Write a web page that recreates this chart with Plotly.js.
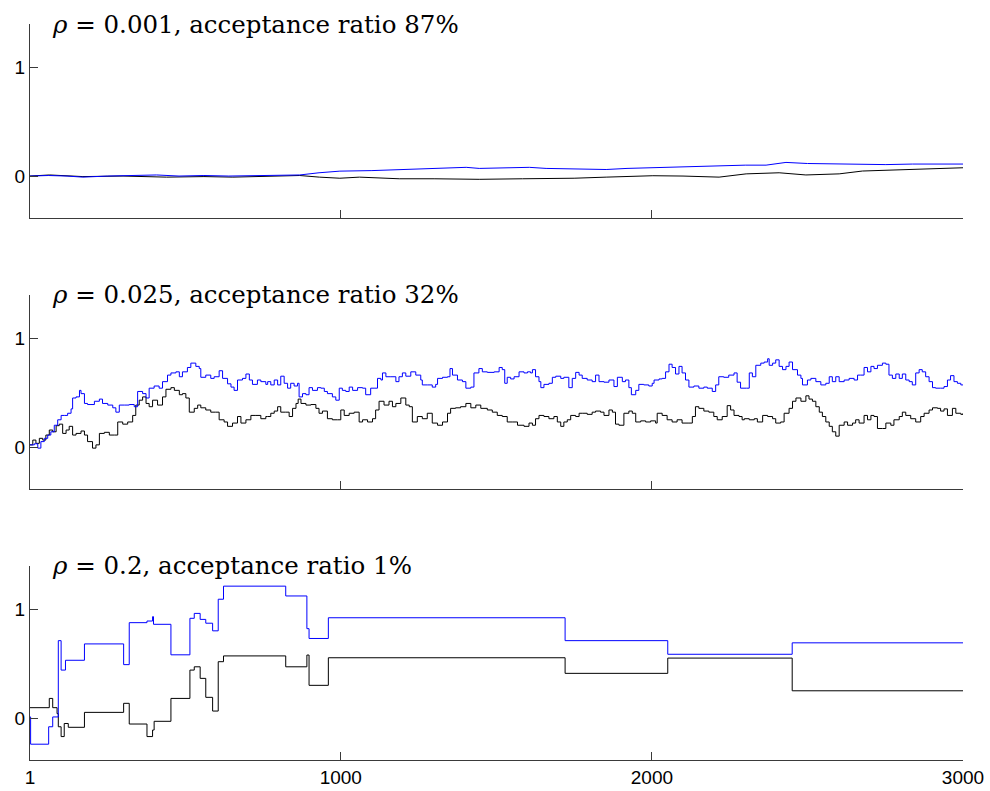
<!DOCTYPE html>
<html>
<head>
<meta charset="utf-8">
<script src="https://cdn.plot.ly/plotly-3.0.1.min.js"></script>
<style>html,body{margin:0;padding:0;background:#fff;}#chart{width:990px;height:791px;}</style>
</head>
<body>
<div id="chart"></div>
<script>
// ---- data (iteration, value) ----
const titles = [
  "<i>ρ</i> = 0.001, acceptance ratio 87%",
  "<i>ρ</i> = 0.025, acceptance ratio 32%",
  "<i>ρ</i> = 0.2, acceptance ratio 1%"
];
const xTickVals = [1, 1000, 2000, 3000];
const xTickText = ["1", "1000", "2000", "3000"];
const yTickVals = [0, 1];

const p1Blue = [[1,0],[60,0.005],[120,0],[171,-0.01],[250,0],[330,0.005],[408,0.01],[480,0],[560,0.005],[640,0],[720,0.005],[800,0.01],[868,0.01],[930,0.03],[997,0.045],[1100,0.05],[1230,0.06],[1330,0.07],[1403,0.08],[1445,0.07],[1530,0.075],[1606,0.08],[1660,0.07],[1750,0.065],[1853,0.06],[1920,0.07],[2003,0.077],[2100,0.085],[2194,0.095],[2300,0.1],[2367,0.1],[2431,0.125],[2500,0.115],[2600,0.11],[2680,0.11],[2752,0.105],[2838,0.11],[2920,0.11],[3000,0.11]];
const p1Black = [[1,0],[64,0.01],[171,-0.005],[300,0],[440,-0.01],[560,-0.005],[653,-0.01],[760,0],[868,0.005],[931,-0.01],[997,-0.02],[1060,-0.01],[1188,-0.025],[1300,-0.025],[1403,-0.03],[1445,-0.03],[1584,-0.025],[1750,-0.02],[1853,-0.01],[2003,0.003],[2100,0],[2216,-0.01],[2303,0.02],[2409,0.03],[2495,0.01],[2602,0.02],[2677,0.046],[2800,0.055],[2900,0.065],[3000,0.076]];

const p2Blue = [[1,0.02],[15,0.03],[26,-0.01],[36,0.05],[47,0.08],[58,0.11],[68,0.14],[79,0.2],[90,0.25],[101,0.29],[111,0.29],[122,0.31],[133,0.35],[138,0.45],[149,0.46],[160,0.52],[165,0.49],[176,0.4],[186,0.39],[197,0.39],[208,0.42],[224,0.44],[234,0.4],[251,0.385],[267,0.36],[277,0.32],[288,0.385],[304,0.385],[320,0.39],[336,0.37],[347,0.51],[363,0.49],[374,0.45],[384,0.54],[400,0.56],[416,0.54],[427,0.6],[443,0.66],[454,0.68],[470,0.69],[481,0.645],[491,0.69],[507,0.73],[518,0.77],[534,0.74],[545,0.72],[550,0.64],[566,0.66],[582,0.63],[593,0.645],[609,0.7],[620,0.63],[636,0.58],[647,0.55],[657,0.52],[668,0.615],[684,0.63],[695,0.67],[706,0.615],[716,0.575],[732,0.615],[743,0.6],[759,0.575],
[765,0.6],[775,0.57],[786,0.615],[797,0.57],[807,0.65],[818,0.585],[829,0.54],[839,0.585],[850,0.56],[861,0.585],[866,0.46],[877,0.49],[888,0.48],[898,0.545],[909,0.52],[925,0.545],[936,0.54],[947,0.51],[957,0.49],[973,0.46],[984,0.43],[995,0.54],[1005,0.52],[1016,0.51],[1027,0.55],[1038,0.52],[1054,0.545],[1070,0.54],[1080,0.48],[1096,0.54],[1107,0.54],[1118,0.63],[1129,0.615],[1134,0.68],[1145,0.645],[1161,0.645],[1177,0.6],[1187,0.645],[1198,0.68],[1209,0.65],[1225,0.69],[1241,0.66],[1257,0.615],[1262,0.57],[1278,0.57],[1294,0.55],[1305,0.575],[1311,0.63],[1327,0.64],[1343,0.645],[1351,0.72],[1359,0.66],[1375,0.615],[1391,0.6],[1402,0.54],[1418,0.55],[1428,0.68],[1444,0.72],[1455,0.69],[1471,0.685],[1493,0.69],[1509,0.73],[1519,0.71],[1527,0.585],
[1535,0.64],[1546,0.625],[1557,0.645],[1573,0.69],[1589,0.68],[1600,0.69],[1610,0.68],[1616,0.71],[1626,0.645],[1637,0.6],[1643,0.545],[1653,0.575],[1669,0.585],[1680,0.64],[1691,0.65],[1707,0.63],[1717,0.64],[1733,0.545],[1744,0.63],[1755,0.685],[1766,0.66],[1776,0.63],[1792,0.615],[1808,0.6],[1819,0.66],[1830,0.6],[1846,0.595],[1862,0.615],[1878,0.555],[1889,0.64],[1905,0.6],[1915,0.615],[1926,0.545],[1934,0.48],[1948,0.52],[1958,0.575],[1974,0.57],[1990,0.56],[2001,0.585],[2007,0.615],[2023,0.625],[2033,0.63],[2044,0.69],[2055,0.76],[2065,0.73],[2076,0.67],[2087,0.74],[2097,0.68],[2108,0.615],[2119,0.55],[2135,0.56],[2151,0.54],[2167,0.55],[2178,0.54],[2194,0.51],[2205,0.57],[2215,0.645],[2231,0.64],[2247,0.66],[2264,0.68],[2274,0.595],
[2285,0.54],[2304,0.54],[2313,0.68],[2323,0.645],[2334,0.75],[2350,0.77],[2361,0.78],[2372,0.81],[2377,0.75],[2388,0.77],[2398,0.8],[2409,0.74],[2420,0.71],[2431,0.74],[2441,0.78],[2452,0.71],[2468,0.66],[2479,0.63],[2484,0.57],[2500,0.615],[2511,0.63],[2527,0.6],[2543,0.57],[2559,0.585],[2570,0.645],[2580,0.6],[2591,0.645],[2602,0.6],[2618,0.615],[2634,0.63],[2650,0.615],[2661,0.66],[2671,0.66],[2682,0.73],[2693,0.69],[2704,0.74],[2714,0.72],[2725,0.75],[2741,0.77],[2752,0.76],[2762,0.66],[2773,0.63],[2784,0.67],[2795,0.63],[2805,0.67],[2816,0.615],[2827,0.6],[2837,0.57],[2848,0.68],[2859,0.71],[2869,0.69],[2880,0.645],[2891,0.6],[2902,0.545],[2912,0.54],[2928,0.54],[2939,0.555],[2950,0.615],[2960,0.655],[2971,0.6],[2982,0.585],[2993,0.57],[3000,0.57]];

const p2Black = [[1,0.02],[10,0.064],[20,0.034],[31,0.08],[42,0.064],[52,0.11],[63,0.156],[74,0.14],[85,0.196],[95,0.21],[106,0.125],[117,0.156],[127,0.19],[138,0.11],[149,0.125],[165,0.147],[176,0.11],[186,0.05],[202,-0.01],[213,0.02],[224,0.125],[240,0.135],[256,0.11],[272,0.11],[283,0.23],[299,0.21],[315,0.23],[331,0.29],[341,0.385],[352,0.43],[363,0.46],[374,0.4],[384,0.37],[395,0.43],[411,0.385],[427,0.46],[438,0.53],[454,0.545],[465,0.52],[481,0.48],[491,0.49],[502,0.45],[513,0.32],[529,0.355],[540,0.385],[550,0.36],[566,0.34],[582,0.32],[598,0.32],[609,0.25],[625,0.23],[636,0.19],[652,0.22],[668,0.28],[679,0.22],[695,0.25],[711,0.29],[727,0.29],[743,0.26],[759,0.28],
[765,0.28],[775,0.31],[786,0.33],[797,0.37],[807,0.32],[823,0.32],[834,0.28],[845,0.355],[856,0.4],[863,0.44],[872,0.4],[888,0.385],[904,0.39],[920,0.355],[930,0.31],[941,0.33],[957,0.26],[973,0.25],[989,0.25],[1000,0.34],[1011,0.29],[1027,0.31],[1043,0.32],[1059,0.23],[1070,0.25],[1086,0.23],[1102,0.26],[1112,0.34],[1123,0.42],[1139,0.385],[1155,0.42],[1166,0.37],[1177,0.4],[1193,0.45],[1209,0.385],[1220,0.37],[1230,0.23],[1246,0.28],[1262,0.26],[1278,0.31],[1294,0.22],[1311,0.2],[1327,0.23],[1343,0.31],[1353,0.355],[1369,0.36],[1385,0.37],[1402,0.4],[1418,0.36],[1434,0.385],[1450,0.355],[1471,0.34],[1487,0.32],[1503,0.29],[1519,0.28],
[1535,0.23],[1551,0.23],[1568,0.2],[1589,0.19],[1605,0.22],[1616,0.2],[1626,0.26],[1637,0.29],[1653,0.28],[1669,0.26],[1685,0.28],[1696,0.23],[1707,0.19],[1717,0.23],[1728,0.25],[1739,0.29],[1755,0.28],[1766,0.31],[1776,0.31],[1792,0.3],[1808,0.32],[1819,0.33],[1835,0.32],[1846,0.29],[1862,0.34],[1873,0.32],[1883,0.21],[1894,0.2],[1910,0.31],[1926,0.33],[1937,0.31],[1948,0.23],[1964,0.24],[1980,0.23],[1996,0.24],[2012,0.22],[2017,0.31],[2033,0.29],[2049,0.25],[2065,0.23],[2081,0.25],[2097,0.22],[2119,0.22],[2130,0.28],[2140,0.37],[2151,0.355],[2167,0.33],[2183,0.32],[2199,0.28],[2210,0.25],[2226,0.28],[2242,0.38],[2253,0.34],[2264,0.29],[2280,0.28],
[2290,0.25],[2297,0.26],[2313,0.25],[2329,0.26],[2339,0.23],[2356,0.29],[2372,0.28],[2388,0.26],[2398,0.22],[2414,0.23],[2425,0.31],[2441,0.355],[2452,0.42],[2463,0.45],[2479,0.42],[2495,0.47],[2505,0.44],[2516,0.42],[2527,0.37],[2538,0.32],[2548,0.28],[2559,0.23],[2570,0.19],[2580,0.14],[2591,0.1],[2602,0.2],[2618,0.23],[2629,0.2],[2645,0.22],[2655,0.25],[2666,0.22],[2682,0.29],[2693,0.25],[2704,0.29],[2714,0.28],[2725,0.17],[2741,0.17],[2752,0.22],[2768,0.2],[2778,0.25],[2795,0.28],[2805,0.32],[2816,0.29],[2832,0.26],[2848,0.23],[2864,0.28],[2875,0.31],[2891,0.34],[2902,0.36],[2918,0.355],[2928,0.33],[2939,0.35],[2950,0.29],[2966,0.355],[2977,0.31],[2993,0.3],[3000,0.31]];

const p3Blue = [[1,0.01],[3,-0.24],[61,-0.08],[74,0.01],[92,0.71],[101,0.44],[115,0.53],[176,0.68],[302,0.49],[320,0.875],[377,0.89],[395,0.93],[398,0.86],[454,0.58],[515,0.915],[529,0.96],[548,0.905],[566,0.87],[588,0.8],[606,1.09],[623,1.21],[823,1.12],[891,0.82],[898,0.73],[960,0.92],[1721,0.71],[2051,0.585],[2451,0.69],[3000,0.69]];
const p3Black = [[1,0.095],[63,0.18],[74,0.095],[88,0.04],[92,-0.08],[101,-0.17],[111,-0.05],[124,-0.085],[176,0.052],[302,0.135],[320,-0.055],[377,-0.17],[395,-0.11],[400,-0.03],[454,0.18],[515,0.44],[529,0.47],[548,0.364],[566,0.19],[588,0.064],[606,0.517],[623,0.57],[823,0.47],[891,0.578],[898,0.3],[960,0.553],[1721,0.41],[2051,0.55],[2451,0.25],[3000,0.25]];

// ---- build traces ----
const xs = a => a.map(p => p[0]);
const ys = a => a.map(p => p[1]);
const BLUE = "#0000ff", BLACK = "#000000";
function tr(arr, color, ax, shape) {
  return {x: xs(arr), y: ys(arr), type: "scatter", mode: "lines",
    line: {color: color, width: 1, shape: shape},
    xaxis: "x" + ax, yaxis: "y" + ax, hoverinfo: "skip", showlegend: false};
}
const data = [
  tr(p1Black, BLACK, "", "linear"), tr(p1Blue, BLUE, "", "linear"),
  tr(p2Black, BLACK, "2", "hv"), tr(p2Blue, BLUE, "2", "hv"),
  tr(p3Black, BLACK, "3", "hv"), tr(p3Blue, BLUE, "3", "hv")
];

const AX = "#3a3a3a";
const tickFont = {family: "Liberation Sans, Arial, sans-serif", size: 19, color: "#000"};
function xa(anchor, labels) {
  return {range: [1, 3000], anchor: anchor, showgrid: false, zeroline: false,
    showline: true, linecolor: AX, linewidth: 1, ticks: "inside", ticklen: 8, tickcolor: AX,
    tickmode: "array", tickvals: labels ? xTickVals : xTickVals.slice(1),
    ticktext: labels ? xTickText : xTickText.slice(1), showticklabels: labels,
    tickfont: tickFont, fixedrange: true};
}
function ya(anchor, dom) {
  return {range: [-0.385, 1.395], domain: dom, anchor: anchor, showgrid: false, zeroline: false,
    showline: true, linecolor: AX, linewidth: 1, ticks: "inside", ticklen: 8, tickcolor: AX,
    tickmode: "array", tickvals: yTickVals, ticktext: ["0", "1"], tickfont: tickFont, fixedrange: true};
}
const titleY = [1.0, 0.6318, 0.2636];
const layout = {
  width: 990, height: 791,
  margin: {l: 30, r: 27, t: 24, b: 31},
  paper_bgcolor: "#fff", plot_bgcolor: "#fff",
  xaxis: xa("y", false), yaxis: ya("x", [0.7364, 1]),
  xaxis2: xa("y2", false), yaxis2: ya("x2", [0.3682, 0.6318]),
  xaxis3: xa("y3", true), yaxis3: ya("x3", [0, 0.2636]),
  annotations: titles.map((t, i) => ({text: t, xref: "paper", yref: "paper",
    x: 0.0214, y: titleY[i], xanchor: "left", yanchor: "middle", showarrow: false,
    font: {family: "DejaVu Serif, serif", size: 24.5, color: "#000"}}))
};
Plotly.newPlot("chart", data, layout, {staticPlot: true, displayModeBar: false});
</script>
</body>
</html>
